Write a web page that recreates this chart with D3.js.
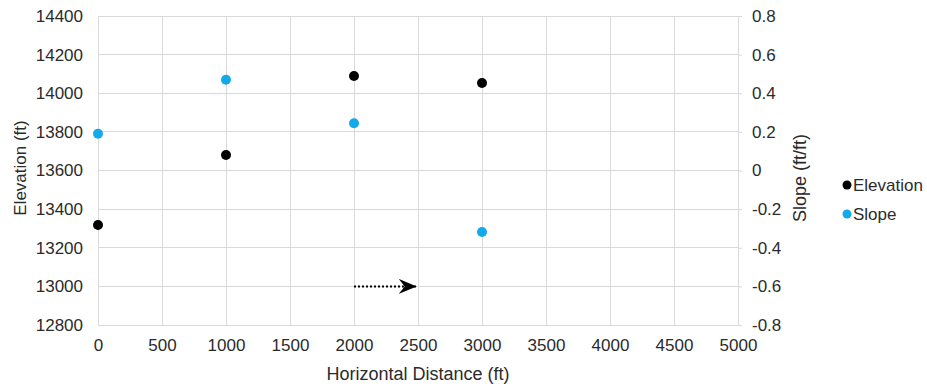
<!DOCTYPE html>
<html><head><meta charset="utf-8">
<script src="https://cdn.jsdelivr.net/npm/d3@7"></script>
<style>body{margin:0;background:#fff;} text{font-family:"Liberation Sans",Arial,sans-serif;}</style>
</head><body>
<svg id="c" width="927" height="387"></svg>
<script>
const distance = [0, 1000, 2000, 3000];
const elevation = [13318, 13680, 14089, 14053];
const slope = [0.19, 0.47, 0.245, -0.318];
const xTicks = [0,500,1000,1500,2000,2500,3000,3500,4000,4500,5000];
const yLeftTicks = [12800,13000,13200,13400,13600,13800,14000,14200,14400];
const yRightTicks = [-0.8,-0.6,-0.4,-0.2,0,0.2,0.4,0.6,0.8];
const arrowX = [2000, 2490];
const arrowY = 13000;
const seriesNames = ["Elevation","Slope"];
const colors = ["#000000","#14a9e8"];

const svg = d3.select("#c");
const L=98, R=738, T=16, B=325;
const FS = 17, FT = 18;
const x = d3.scaleLinear().domain([0,5000]).range([L,R]);
const yL = d3.scaleLinear().domain([12800,14400]).range([B,T]);
const yR = d3.scaleLinear().domain([-0.8,0.8]).range([B,T]);
const grid="#d9d9d9", tc="#2b2b2b";

// gridlines
svg.append("g").selectAll("line").data(xTicks).join("line")
  .attr("x1",d=>x(d)).attr("x2",d=>x(d)).attr("y1",T).attr("y2",B)
  .attr("stroke",grid).attr("stroke-width",1).attr("shape-rendering","crispEdges");
svg.append("g").selectAll("line").data(yLeftTicks).join("line")
  .attr("x1",L).attr("x2",R).attr("y1",d=>yL(d)).attr("y2",d=>yL(d))
  .attr("stroke",grid).attr("stroke-width",1).attr("shape-rendering","crispEdges");

// axes
const ax = svg.append("g").attr("transform",`translate(0,${B})`)
  .call(d3.axisBottom(x).tickValues(xTicks).tickSize(0).tickPadding(14).tickFormat(d3.format("d")));
const ay = svg.append("g").attr("transform",`translate(${L},0)`)
  .call(d3.axisLeft(yL).tickValues(yLeftTicks).tickSize(0).tickPadding(15).tickFormat(d3.format("d")));
const ar = svg.append("g").attr("transform",`translate(${R},0)`)
  .call(d3.axisRight(yR).tickValues(yRightTicks).tickSize(4).tickPadding(10)
    .tickFormat(d=>d===0?"0":d.toFixed(1)));
[ax,ay,ar].forEach(g=>{
  g.attr("font-size",FS).attr("font-family",null);
  g.select(".domain").attr("stroke",grid).attr("shape-rendering","crispEdges");
  g.selectAll(".tick line").attr("stroke",grid);
  g.selectAll("text").attr("fill",tc).style("font-size",FS+"px");
});

// axis titles
svg.append("text").attr("x",x(2500)).attr("y",380).attr("text-anchor","middle")
  .style("font-size",FT+"px").attr("fill",tc).text("Horizontal Distance (ft)");
svg.append("text").attr("transform",`translate(26,168) rotate(-90)`).attr("text-anchor","middle")
  .style("font-size",FS+"px").attr("fill",tc).text("Elevation (ft)");
svg.append("text").attr("transform",`translate(806,178) rotate(-90)`).attr("text-anchor","middle")
  .style("font-size",FT+"px").attr("fill",tc).text("Slope (ft/ft)");

// arrow
svg.append("defs").append("marker").attr("id","ah").attr("viewBox","0 0 12 10")
  .attr("refX",12).attr("refY",5).attr("markerWidth",18).attr("markerHeight",15)
  .attr("markerUnits","userSpaceOnUse").attr("orient","auto")
  .append("path").attr("d","M0,0 L12,5 L0,10 L4,5 Z").attr("fill","#000");
svg.append("line").attr("x1",x(arrowX[0])).attr("x2",x(arrowX[1])).attr("y1",yL(arrowY)).attr("y2",yL(arrowY))
  .attr("stroke","#000").attr("stroke-width",2).attr("stroke-dasharray","2,2").attr("marker-end","url(#ah)");

// points
svg.append("g").selectAll("circle").data(distance).join("circle")
  .attr("cx",(d)=>x(d)).attr("cy",(d,i)=>yL(elevation[i])).attr("r",5).attr("fill",colors[0]);
svg.append("g").selectAll("circle").data(distance).join("circle")
  .attr("cx",(d)=>x(d)).attr("cy",(d,i)=>yR(slope[i])).attr("r",5).attr("fill",colors[1]);

// legend
const lg = svg.append("g").selectAll("g").data(seriesNames).join("g")
  .attr("transform",(d,i)=>`translate(847,${185+i*29})`);
lg.append("circle").attr("r",4.5).attr("fill",(d,i)=>colors[i]);
lg.append("text").attr("x",6).attr("y",6).style("font-size",FS+"px").attr("fill",tc).text(d=>d);
</script>
</body></html>
